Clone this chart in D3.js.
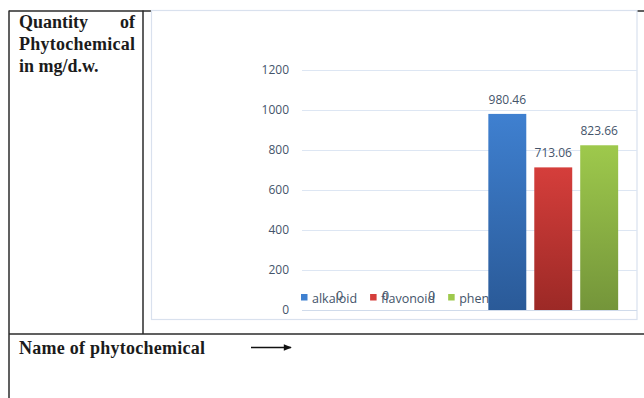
<!DOCTYPE html>
<html>
<head>
<meta charset="utf-8">
<script src="https://cdn.jsdelivr.net/npm/d3@7"></script>
<style>
body{margin:0;background:#fff;}
svg{display:block;}
</style>
</head>
<body>
<div id="chart-area"></div>
<script>
// data
var categories = ['1', '2'];
var seriesNames = ['alkaloid', 'flavonoid', 'phenol'];
var alkaloid = [0, 980.46];
var flavonoid = [0, 713.06];
var phenol = [0, 823.66];
var yTicks = [0, 200, 400, 600, 800, 1000, 1200];
var seriesValues = [alkaloid, flavonoid, phenol];
var seriesColors = [['#3f80d0', '#2a5a98'], ['#d53e3b', '#9c2926'], ['#9ec94c', '#74953a']];

var svgWidth = 644, svgHeight = 398;

var svg = d3.select('#chart-area')
  .append('svg')
  .attr('width', svgWidth)
  .attr('height', svgHeight);

// table lines
var ink = '#2b2b2b';
svg.append('line').attr('x1', 9).attr('x2', 644).attr('y1', 11).attr('y2', 11).attr('stroke', ink).attr('stroke-width', 1.5);
svg.append('line').attr('x1', 9).attr('x2', 9).attr('y1', 10.5).attr('y2', 398).attr('stroke', ink).attr('stroke-width', 1.5);
svg.append('line').attr('x1', 143).attr('x2', 143).attr('y1', 10.5).attr('y2', 334).attr('stroke', ink).attr('stroke-width', 1.5);
svg.append('line').attr('x1', 9).attr('x2', 644).attr('y1', 334).attr('y2', 334).attr('stroke', ink).attr('stroke-width', 1.5);

// header text
var serif = "'Liberation Serif', 'Times New Roman', serif";
var hdr = svg.append('g').attr('font-family', serif).attr('font-weight', 'bold')
  .attr('font-size', 18).attr('fill', '#1b1b1b');
hdr.append('text').attr('x', 19).attr('y', 28).text('Quantity');
hdr.append('text').attr('x', 135).attr('y', 28).attr('text-anchor', 'end').text('of');
hdr.append('text').attr('x', 19).attr('y', 50).attr('textLength', 116).text('Phytochemical');
hdr.append('text').attr('x', 19).attr('y', 72).text('in mg/d.w.');
hdr.append('text').attr('x', 19).attr('y', 354).attr('textLength', 186).text('Name of phytochemical');

// arrow
svg.append('defs').append('marker')
  .attr('id', 'arrowhead').attr('viewBox', '0 0 10 10')
  .attr('refX', 9).attr('refY', 5).attr('markerWidth', 11).attr('markerHeight', 8)
  .attr('markerUnits', 'userSpaceOnUse').attr('orient', 'auto')
  .append('path').attr('d', 'M0,1 L10,5 L0,9 Z').attr('fill', '#111');
svg.append('line').attr('x1', 251).attr('x2', 291).attr('y1', 347.5).attr('y2', 347.5)
  .attr('stroke', '#111').attr('stroke-width', 1.7).attr('marker-end', 'url(#arrowhead)');

// chart frame
svg.append('rect').attr('x', 151.5).attr('y', 10.5).attr('width', 485.5).attr('height', 309)
  .attr('fill', '#fff').attr('stroke', '#d9e1ee').attr('stroke-width', 1.2);

// gradients
var defs = svg.append('defs');
seriesColors.forEach(function(c, i) {
  var lg = defs.append('linearGradient').attr('id', 'grad' + i)
    .attr('x1', 0).attr('y1', 0).attr('x2', 0).attr('y2', 1);
  lg.append('stop').attr('offset', '0%').attr('stop-color', c[0]);
  lg.append('stop').attr('offset', '100%').attr('stop-color', c[1]);
});

var plotLeft = 302, plotRight = 637;

var yScale = d3.scaleLinear().domain([0, 1200]).range([310, 70]);
var x0 = d3.scaleBand().domain(categories).range([plotLeft, plotRight]).padding(0);
var x1 = d3.scaleBand().domain(seriesNames).range([0, x0.bandwidth()])
  .paddingInner(0.174).paddingOuter(0.41);

var sans = "'Open Sans', 'Noto Sans', sans-serif";
var labelColor = '#44546a';

// y axis
var yAxis = d3.axisLeft(yScale).tickValues(yTicks).tickFormat(d3.format('d'))
  .tickSize(0).tickPadding(13);
var gy = svg.append('g').attr('transform', 'translate(' + plotLeft + ',0)').call(yAxis);
gy.select('.domain').remove();
gy.selectAll('text').attr('font-family', sans).attr('font-size', 12).attr('fill', labelColor);

// gridlines
svg.append('g').selectAll('line').data(yTicks).enter().append('line')
  .attr('x1', plotLeft).attr('x2', plotRight)
  .attr('y1', function(d) { return Math.round(yScale(d)) + 0.5; })
  .attr('y2', function(d) { return Math.round(yScale(d)) + 0.5; })
  .attr('stroke', function(d) { return d === 0 ? '#d0dbeb' : '#dde6f3'; })
  .attr('stroke-width', 1);

// legend (drawn under bars)
var legend = svg.append('g').attr('font-family', sans).attr('font-size', 12.5).attr('fill', labelColor);
var lx = 301;
seriesNames.forEach(function(name, i) {
  legend.append('rect').attr('x', lx).attr('y', 294).attr('width', 6.5).attr('height', 6.5)
    .attr('fill', seriesColors[i][0]);
  var t = legend.append('text').attr('x', lx + 11).attr('y', 302.5).text(name);
  lx += 11 + t.node().getComputedTextLength() + 13;
});

// bars
var groups = svg.append('g').selectAll('g').data(seriesNames).enter().append('g');
groups.selectAll('rect')
  .data(function(s, i) {
    return categories.map(function(c, j) { return {s: s, i: i, c: c, v: seriesValues[i][j]}; });
  })
  .enter().append('rect')
  .attr('x', function(d) { return x0(d.c) + x1(d.s); })
  .attr('y', function(d) { return yScale(d.v); })
  .attr('width', x1.bandwidth())
  .attr('height', function(d) { return yScale(0) - yScale(d.v); })
  .attr('fill', function(d) { return 'url(#grad' + d.i + ')'; });

// data labels
groups.selectAll('text')
  .data(function(s, i) {
    return categories.map(function(c, j) { return {s: s, i: i, c: c, v: seriesValues[i][j]}; });
  })
  .enter().append('text')
  .attr('x', function(d) { return x0(d.c) + x1(d.s) + x1.bandwidth() / 2; })
  .attr('y', function(d) { return yScale(d.v) - 10; })
  .attr('text-anchor', 'middle')
  .attr('font-family', sans).attr('font-size', 12).attr('fill', labelColor)
  .text(function(d) { return d.v; });
</script>
</body>
</html>
